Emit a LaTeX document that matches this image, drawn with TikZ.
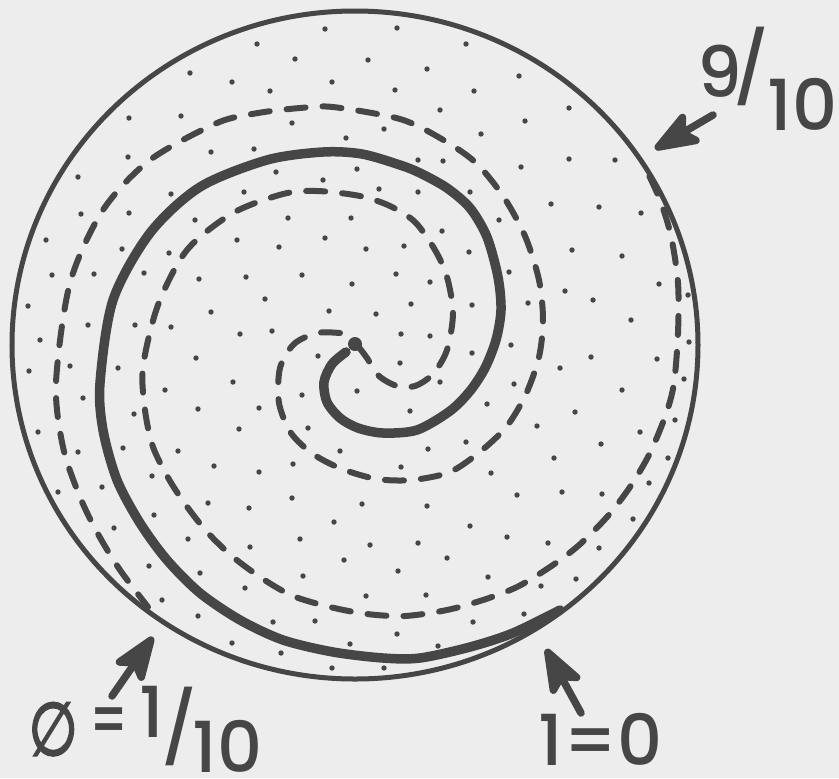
\documentclass[tikz,border=0pt]{standalone}
\usepackage{fontspec}
\setmainfont{Poppins}
\newfontfamily\tagfont{Poppins}[UprightFont={* Medium}]
\newfontfamily\symfont{DejaVu Sans}[FakeBold=3]
\usetikzlibrary{arrows.meta}
\definecolor{ink}{RGB}{70,70,70}
\definecolor{paper}{RGB}{237,237,237}
\tikzset{
  rim/.style={ink,line width=0.05cm},
  coil/.style={ink,line width=0.095cm,line cap=round},
  dashcoil/.style={ink,line width=0.06cm,line cap=round,dash pattern=on 0.19cm off 0.17cm},
  pointer/.style={ink,line width=0.075cm,line cap=round,-{Stealth[length=0.55cm,width=0.4cm,inset=0.12cm,round]}},
  tag/.style={ink,font={\tagfont\fontsize{20}{20}\selectfont},inner sep=0pt}
}
\begin{document}
\begin{tikzpicture}[x=0.01cm,y=-0.01cm]
\fill[paper] (0,0) rectangle (839,778);
\useasboundingbox (0,0) rectangle (839,778);
\foreach \x/\y in {325/29,397/28,257/44,295/59,368/60,190/73,232/82,332/82,270/91,395/90,
  129/118,181/116,292/123,384/129,346/138,128/157,211/152,254/149,418/160,78/177,276/172,
  357/169,323/180,379/189,171/194,244/192,418/192,81/214,129/213,195/220,288/218,351/218,
  46/240,122/249,169/253,237/240,325/238,279/247,366/249,404/246,52/275,94/274,144/273,
  199/279,246/277,302/275,396/274,352/284,411/304,265/299,211/312,171/327,240/334,135/325,
  88/325,28/306,329/311,376/314,272/331,401/334,40/340,196/358,233/382,118/368,70/366,
  29/371,165/390,400/363,318/356,357/391,302/395,83/398,
  466/44,427/69,519/76,474/91,440/110,569/108,525/121,481/134,443/161,569/159,615/160,
  521/167,470/192,551/204,599/207,641/213,499/220,442/231,469/252,572/250,622/256,430/282,
  509/272,565/291,659/284,472/305,528/303,593/300,631/320,688/295,430/336,511/345,689/342,
  472/353,591/357,657/359,560/368,440/382,514/384,622/390,684/379,
  198/409,259/408,38/432,134/414,239/429,410/411,78/452,123/448,178/451,214/466,259/472,
  293/464,340/451,308/428,401/467,58/492,102/487,152/476,208/503,249/508,292/498,362/504,
  334/522,114/528,154/515,188/539,250/547,300/539,370/545,418/543,344/560,398/571,149/566,
  200/573,303/576,162/600,245/588,366/596,198/616,273/622,315/621,397/634,232/643,281/653,
  350/644,332/668,384/668,
  487/404,575/412,537/426,675/420,640/432,601/444,554/458,668/458,428/449,466/442,491/473,
  649/483,517/495,562/492,602/494,427/506,633/519,470/526,507/537,548/543,599/548,447/558,
  576/579,488/577,541/586,426/595,524/614,473/622,438/646}
  \fill[ink] (\x,\y) circle (2.7);
\draw[rim] (355,345) ellipse (343 and 334);
\draw[coil] plot[smooth] coordinates {(346,352) (332,364) (324,382) (327,402) (340,418)
  (358,428) (383,433) (417,430) (450,411) (470,391) (485,368) (496,340) (501,310) (498,277)
  (487,237) (470,208) (447,188) (420,173) (400,165) (362,154) (323,152) (267,160) (200,187)
  (150,233) (113,300) (100,383) (103,430) (117,480) (140,523) (167,560) (200,593) (240,620)
  (283,640) (333,652) (383,658) (420,658) (470,647) (513,633) (560,610)};
\draw[dashcoil] plot[smooth] coordinates {(340,333) (317,333) (294,344) (280,368) (279,403)
  (291,433) (313,454) (342,469) (377,479) (412,480) (450,472) (481,451) (507,426) (526,394)
  (539,357) (543,320) (539,280) (525,236) (503,196) (475,162) (440,138) (400,119) (333,107)
  (300,108) (258,113) (217,123) (150,160) (103,210) (70,283) (56,383) (63,447) (80,497)
  (98,534) (120,570) (148,607)};
\draw[dashcoil] plot[smooth] coordinates {(358,346) (367,358) (379,376) (397,386) (415,386)
  (433,374) (447,350) (453,313) (447,277) (435,250) (415,222) (390,206) (360,196) (317,191)
  (283,194) (233,213) (187,250) (158,305) (143,367) (145,410) (153,447) (170,481) (188,508)
  (208,533) (233,557) (263,579) (293,596) (330,607) (367,614) (405,616) (447,610) (483,600)
  (517,587) (550,567) (578,546) (607,517) (630,487) (650,453) (666,414) (674,383) (678,333)
  (678,283) (671,236) (660,200) (645,167)};
\fill[ink] (355,344) circle (7);
\node[tag,anchor=base west] (nineTenths) at (697,130) {\raisebox{0.32cm}{9}\kern-0.09cm\raisebox{0.36cm}{/}\kern-0.02cm 10};
\node[tag,anchor=base west] (oneTenth) at (28,772) {\raisebox{0.17cm}{\scalebox{0.8}[1.05]{\symfont ∅}}\kern0.12cm\raisebox{0.27cm}{\scalebox{0.72}[1]{=}}\kern0.11cm\raisebox{0.34cm}{1}\kern-0.03cm\raisebox{0.19cm}{/}\kern-0.05cm 10};
\node[tag,anchor=base west] (oneZero) at (538,765) {1=0};
\coordinate (tailNine) at (713,115);
\coordinate (tipNine) at (655,149);
\coordinate (tailTenth) at (112,696);
\coordinate (tipTenth) at (153,637);
\coordinate (tailZero) at (581,713);
\coordinate (tipZero) at (546,649);
\draw[pointer] (tailNine) -- (tipNine);
\draw[pointer] (tailTenth) -- (tipTenth);
\draw[pointer] (tailZero) -- (tipZero);
\end{tikzpicture}
\end{document}
